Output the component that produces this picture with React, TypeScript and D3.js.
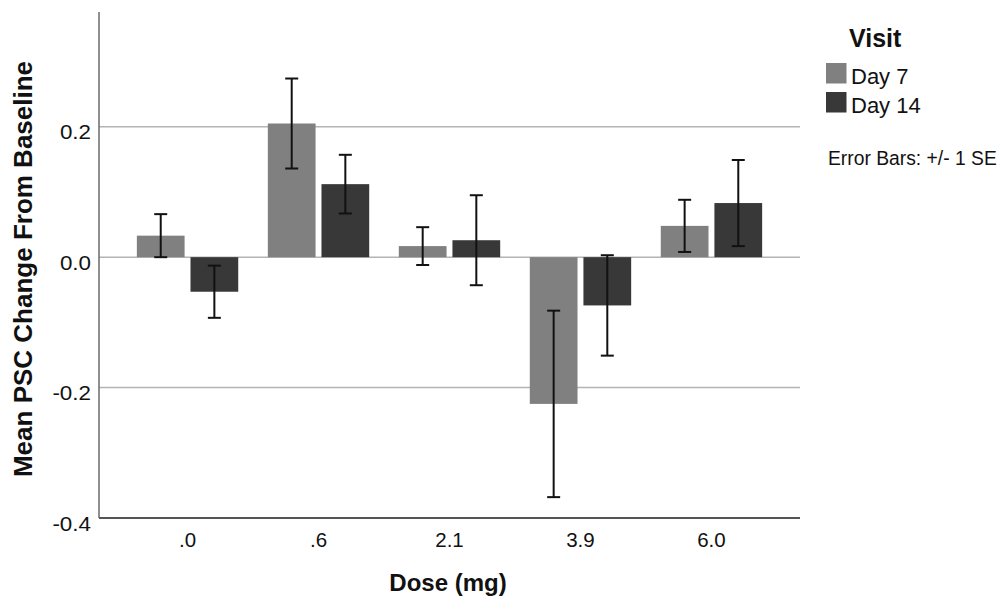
import React from "react";
import * as d3 from "d3";

const doses = [".0", ".6", "2.1", "3.9", "6.0"];
const visits = ["Day 7", "Day 14"];
const day7 = [0.033, 0.205, 0.017, -0.225, 0.048];
const day7SE = [0.033, 0.069, 0.029, 0.143, 0.04];
const day14 = [-0.053, 0.112, 0.026, -0.074, 0.083];
const day14SE = [0.04, 0.045, 0.069, 0.077, 0.066];
const yTicks = [-0.4, -0.2, 0.0, 0.2];
const gridTicks = [-0.2, 0.0, 0.2];
const colors = ["#808080", "#383838"];

const W = 998;
const H = 597;
const left = 99;
const right = 800;
const top = 12;
const bottom = 518;
const font = "'Liberation Sans', Arial, Helvetica, sans-serif";

export default function App() {
  const x0 = d3
    .scaleBand<string>()
    .domain(doses)
    .range([left, right])
    .paddingInner(0.226)
    .paddingOuter(0.289);
  const x1 = d3
    .scaleBand<string>()
    .domain(visits)
    .range([0, x0.bandwidth()])
    .paddingInner(0.11);
  const y = d3.scaleLinear().domain([-0.4, 0.376]).range([bottom, top]);

  const series = [
    { key: visits[0], values: day7, se: day7SE, color: colors[0] },
    { key: visits[1], values: day14, se: day14SE, color: colors[1] },
  ];

  // SPSS style labels use a plain hyphen, not the unicode minus
  const fmt = (v: number) => d3.format(".1f")(v).replace("\u2212", "-");
  const cap = 6.5;

  return (
    <svg
      width={W}
      height={H}
      style={{ position: "absolute", left: 0, top: 0, background: "#fff" }}
      fontFamily={font}
    >
      {/* gridlines */}
      {gridTicks.map((t) => (
        <line
          key={t}
          x1={left}
          x2={right}
          y1={y(t)}
          y2={y(t)}
          stroke="#b4b4b4"
          strokeWidth={1.5}
        />
      ))}

      {/* bars */}
      {series.map((s) =>
        doses.map((d, i) => {
          const v = s.values[i];
          const bx = (x0(d) ?? 0) + (x1(s.key) ?? 0);
          return (
            <rect
              key={s.key + d}
              x={bx}
              y={Math.min(y(v), y(0))}
              width={x1.bandwidth()}
              height={Math.abs(y(v) - y(0))}
              fill={s.color}
            />
          );
        })
      )}

      {/* error bars */}
      {series.map((s) =>
        doses.map((d, i) => {
          const v = s.values[i];
          const e = s.se[i];
          const cx = (x0(d) ?? 0) + (x1(s.key) ?? 0) + x1.bandwidth() / 2;
          return (
            <g key={"e" + s.key + d} stroke="#111" strokeWidth={2}>
              <line x1={cx} x2={cx} y1={y(v + e)} y2={y(v - e)} />
              <line x1={cx - cap} x2={cx + cap} y1={y(v + e)} y2={y(v + e)} />
              <line x1={cx - cap} x2={cx + cap} y1={y(v - e)} y2={y(v - e)} />
            </g>
          );
        })
      )}

      {/* axes */}
      <line x1={left} x2={left} y1={top} y2={bottom} stroke="#6a6a6a" strokeWidth={1.5} />
      <line x1={left} x2={right} y1={bottom} y2={bottom} stroke="#555" strokeWidth={2} />

      {/* y tick labels */}
      {yTicks.map((t) => (
        <g key={t} transform={`translate(91,${y(t) + 12.5}) scale(1.12,1)`}>
          <text textAnchor="end" fontSize={20} fill="#111">
            {fmt(t)}
          </text>
        </g>
      ))}

      {/* x tick labels */}
      {doses.map((d) => (
        <text
          key={d}
          x={(x0(d) ?? 0) + x0.bandwidth() / 2}
          y={547}
          textAnchor="middle"
          fontSize={20.5}
          fill="#111"
        >
          {d}
        </text>
      ))}

      {/* axis titles */}
      <text
        x={448}
        y={590.5}
        textAnchor="middle"
        fontSize={24}
        fontWeight="bold"
        fill="#111"
      >
        Dose (mg)
      </text>
      <text
        transform="translate(31.5,269) rotate(-90)"
        textAnchor="middle"
        fontSize={26}
        fontWeight="bold"
        fill="#111"
      >
        Mean PSC Change From Baseline
      </text>

      {/* legend */}
      <text x={849} y={46.5} fontSize={25} fontWeight="bold" fill="#111">
        Visit
      </text>
      {series.map((s, i) => (
        <g key={s.key} transform={`translate(826,${63 + i * 29})`}>
          <rect width={20.5} height={20.5} fill={s.color} />
          <text x={25} y={20.5} fontSize={22} fill="#111">
            {s.key}
          </text>
        </g>
      ))}
      <text x={828} y={165} fontSize={19.3} fill="#111">
        Error Bars: +/- 1 SE
      </text>
    </svg>
  );
}
